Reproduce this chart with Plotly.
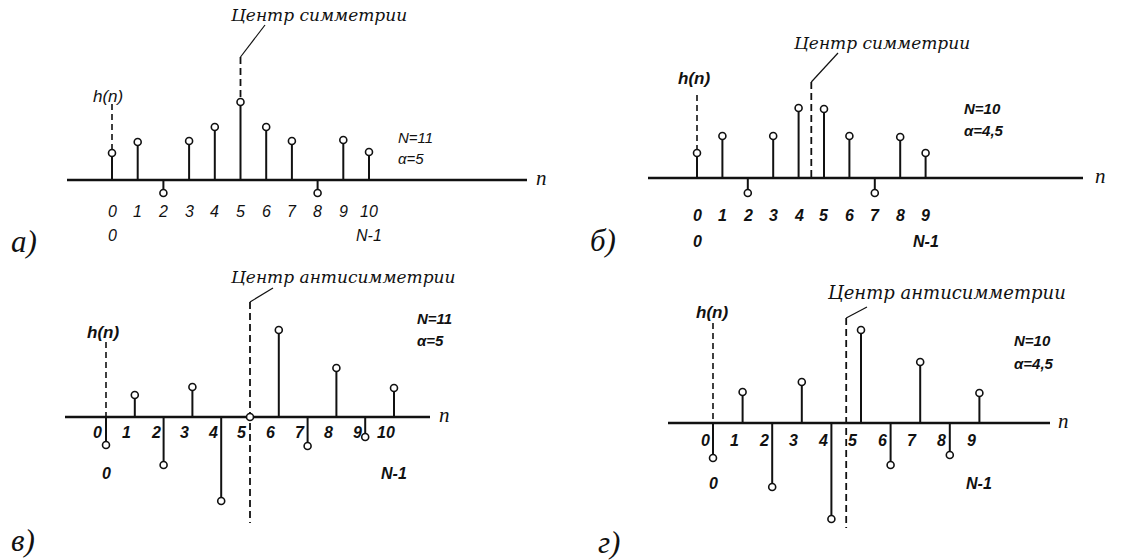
import plotly.graph_objects as go

W, H = 1137, 560

# ---- impulse responses of the four linear-phase FIR types ----
n_a = list(range(11))
h_a = [27, 38, -13, 39, 53, 78, 53, 39, -13, 40, 28]
ticks_a = ["0", "1", "2", "3", "4", "5", "6", "7", "8", "9", "10"]

n_b = list(range(10))
h_b = [25, 42, -15, 42, 70, 69, 42, -15, 41, 25]
ticks_b = ["0", "1", "2", "3", "4", "5", "6", "7", "8", "9"]

n_c = list(range(11))
h_c = [-28, 22, -48, 30, -84, 0, 87, -29, 49, -20, 29]
ticks_c = ["0", "1", "2", "3", "4", "5", "6", "7", "8", "9", "10"]

n_d = list(range(10))
h_d = [-35, 31, -64, 41, -96, 93, -42, 61, -32, 30]
ticks_d = ["0", "1", "2", "3", "4", "5", "6", "7", "8", "9"]

N_vals = [11, 10, 11, 10]
alpha_vals = [5, 4.5, 5, 4.5]
alpha_text = ["5", "4,5", "5", "4,5"]
panel_letters = ["а)", "б)", "в)", "г)"]
center_text = ["Центр симметрии", "Центр симметрии",
               "Центр антисимметрии", "Центр антисимметрии"]

# ---- geometry of each panel (pixel calibration) ----
panels = [
    dict(n=n_a, h=h_a, ticks=ticks_a, box=(0, 0, 568, 262), x0=112, dx=25.7, ay=180,
         axis=(67, 527), nlab=(541, 178), tick_y=211, tick_shift=0, row2_y=235,
         hn=(108, 96), hn_dash=(104, 149), c_dash=(57, 100), lead=(265, 25),
         ctext=(318, 15), csize=17, nx=396, ny=(137, 158), letter=(24, 241), bold=False),
    dict(n=n_b, h=h_b, ticks=ticks_b, box=(568, 0, 1137, 262), x0=697, dx=25.4, ay=178,
         axis=(648, 1083), nlab=(1100, 176), tick_y=215, tick_shift=0, row2_y=241,
         hn=(694, 78), hn_dash=(95, 149), c_dash=(82, 178), lead=(838, 53),
         ctext=(881, 43), csize=17, nx=962, ny=(108, 130), letter=(603, 240), bold=True),
    dict(n=n_c, h=h_c, ticks=ticks_c, box=(0, 262, 568, 560), x0=106, dx=28.8, ay=417,
         axis=(65, 430), nlab=(444, 415), tick_y=432, tick_shift=-0.28, row2_y=473,
         hn=(103, 332), hn_dash=(342, 417), c_dash=(302, 523), lead=(273, 288),
         ctext=(343, 277), csize=17, nx=415, ny=(318, 340), letter=(23, 540), bold=True),
    dict(n=n_d, h=h_d, ticks=ticks_d, box=(568, 262, 1137, 560), x0=713, dx=29.6, ay=423,
         axis=(668, 1050), nlab=(1063, 421), tick_y=440, tick_shift=-0.27, row2_y=483,
         hn=(712, 312), hn_dash=(323, 423), c_dash=(318, 528), lead=(867, 307),
         ctext=(946, 292), csize=18, nx=1012, ny=(340, 363), letter=(609, 542), bold=True),
]

BLACK = "#111111"
SANS = "Liberation Sans"
SERIF = "Liberation Serif"
CAP = "DejaVu Serif"

fig = go.Figure()
annotations = []
layout_axes = {}

for i, p in enumerate(panels, start=1):
    xa, ya = f"x{i}", f"y{i}"
    left, top, right, bottom = p["box"]
    x0, dx, ay = p["x0"], p["dx"], p["ay"]

    def X(px, x0=x0, dx=dx):
        return (px - x0) / dx

    def Y(py, ay=ay):
        return ay - py

    sfx = "" if i == 1 else str(i)
    layout_axes[f"xaxis{sfx}"] = dict(domain=[left / W, right / W],
                                      range=[X(left), X(right)], visible=False,
                                      fixedrange=True)
    layout_axes[f"yaxis{sfx}"] = dict(domain=[1 - bottom / H, 1 - top / H],
                                      range=[Y(bottom), Y(top)], visible=False,
                                      fixedrange=True)

    # horizontal n axis
    fig.add_trace(go.Scatter(x=[X(p["axis"][0]), X(p["axis"][1])], y=[0, 0],
                             mode="lines", line=dict(color=BLACK, width=2.4),
                             xaxis=xa, yaxis=ya, hoverinfo="skip"))

    # dashed line under h(n)
    fig.add_trace(go.Scatter(x=[0, 0], y=[Y(p["hn_dash"][0]), Y(p["hn_dash"][1])],
                             mode="lines", line=dict(color=BLACK, width=1.6, dash="6px,4px"),
                             xaxis=xa, yaxis=ya, hoverinfo="skip"))

    # centre of (anti)symmetry: dashed vertical plus leader to caption
    a = alpha_vals[i - 1]
    fig.add_trace(go.Scatter(x=[a, a], y=[Y(p["c_dash"][0]), Y(p["c_dash"][1])],
                             mode="lines", line=dict(color=BLACK, width=1.8, dash="7px,4px"),
                             xaxis=xa, yaxis=ya, hoverinfo="skip"))
    fig.add_trace(go.Scatter(x=[a, X(p["lead"][0])], y=[Y(p["c_dash"][0]), Y(p["lead"][1])],
                             mode="lines", line=dict(color=BLACK, width=1.2),
                             xaxis=xa, yaxis=ya, hoverinfo="skip"))

    # stems
    sx, sy = [], []
    for n, h in zip(p["n"], p["h"]):
        sx += [n, n, None]
        sy += [0, h, None]
    fig.add_trace(go.Scatter(x=sx, y=sy, mode="lines",
                             line=dict(color=BLACK, width=2),
                             xaxis=xa, yaxis=ya, hoverinfo="skip"))
    fig.add_trace(go.Scatter(x=p["n"], y=p["h"], mode="markers",
                             marker=dict(symbol="circle", size=7, color="white",
                                         line=dict(color=BLACK, width=1.6)),
                             xaxis=xa, yaxis=ya, hoverinfo="skip"))

    b0, b1 = ("<b>", "</b>") if p["bold"] else ("", "")

    def txt(x, y, s, size, family, xanchor="center"):
        annotations.append(dict(x=x, y=y, xref=xa, yref=ya, text=s, showarrow=False,
                                xanchor=xanchor, yanchor="middle",
                                font=dict(family=family, size=size, color=BLACK)))

    # tick numbers along the axis
    for n, t in zip(p["n"], p["ticks"]):
        txt(n + p["tick_shift"], Y(p["tick_y"]), f"{b0}<i>{t}</i>{b1}", 16, SANS)
    txt(0, Y(p["row2_y"]), f"{b0}<i>0</i>{b1}", 16, SANS)
    txt(N_vals[i - 1] - 1, Y(p["row2_y"]), f"{b0}<i>N-1</i>{b1}", 16, SANS)

    # labels
    txt(X(p["nlab"][0]), Y(p["nlab"][1]), "<i>n</i>", 21, SERIF)
    txt(X(p["hn"][0]), Y(p["hn"][1]), f"{b0}<i>h(n)</i>{b1}", 17, SANS)
    txt(X(p["nx"]), Y(p["ny"][0]), f"{b0}<i>N={N_vals[i - 1]}</i>{b1}", 15, SANS, "left")
    txt(X(p["nx"]), Y(p["ny"][1]), f"{b0}<i>α={alpha_text[i - 1]}</i>{b1}", 15, SANS, "left")
    txt(X(p["ctext"][0]), Y(p["ctext"][1]), f"<i>{center_text[i - 1]}</i>", p["csize"], CAP)
    txt(X(p["letter"][0]), Y(p["letter"][1]), f"<i>{panel_letters[i - 1]}</i>", 31, SERIF)

fig.update_layout(width=W, height=H, margin=dict(l=0, r=0, t=0, b=0),
                  paper_bgcolor="white", plot_bgcolor="rgba(0,0,0,0)",
                  showlegend=False, annotations=annotations, **layout_axes)

fig.write_html("out.html", config=dict(displayModeBar=False))
